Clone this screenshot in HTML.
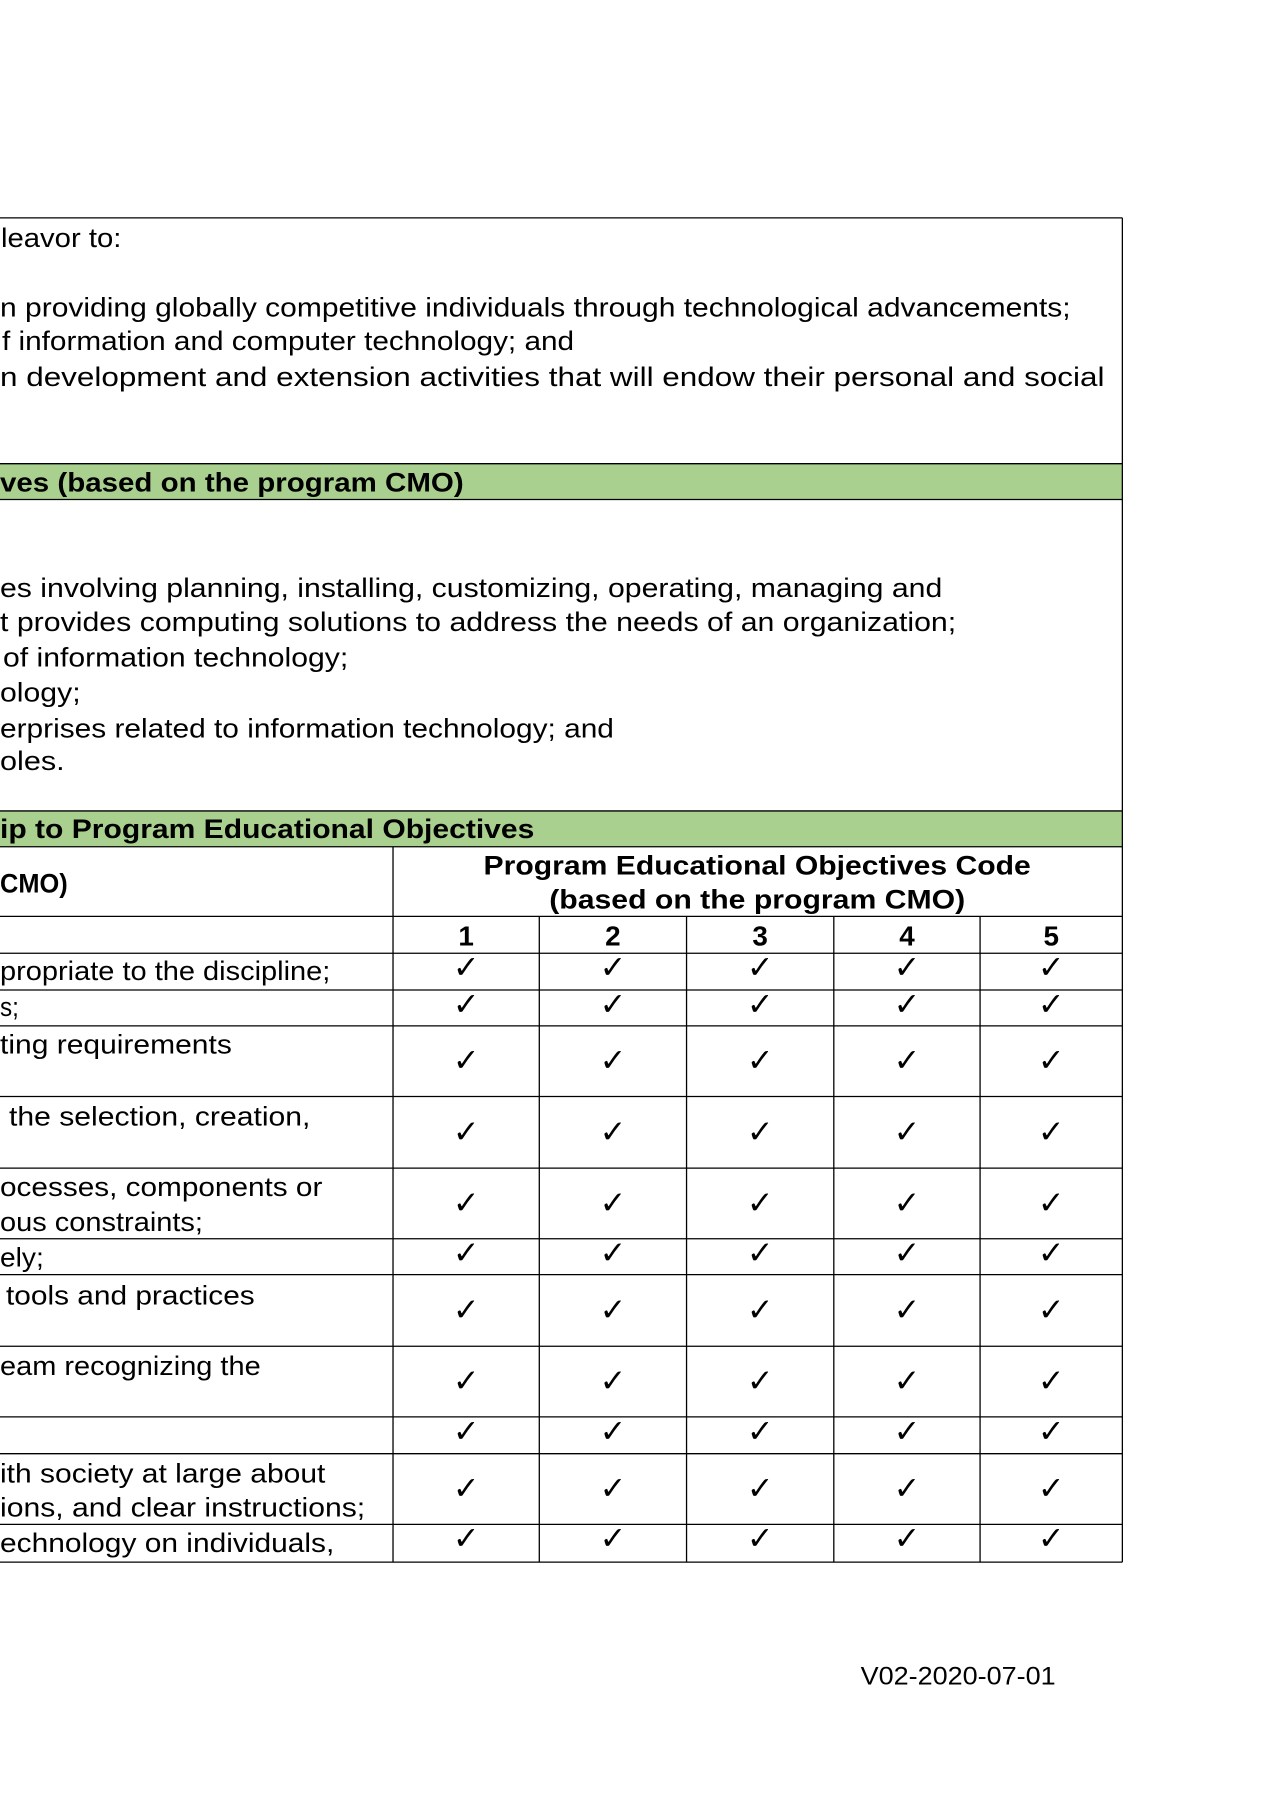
<!DOCTYPE html>
<html><head><meta charset="utf-8"><style>
html,body{margin:0;padding:0;background:#fff;}
svg{display:block;font-family:"Liberation Sans",Arial,sans-serif;}
</style></head><body>
<svg id="s" width="1274" height="1800" viewBox="0 0 1274 1800">
<g transform="scale(0.995)">
<g fill="#a9d08e">
<rect x="0" y="466" width="1128" height="36"/>
<rect x="0" y="815" width="1128" height="36"/>
</g>
<g stroke="#000" stroke-width="1.3" fill="none">
<line x1="0" y1="219" x2="1128" y2="219"/>
<line x1="1128" y1="219" x2="1128" y2="1570"/>
<line x1="0" y1="466" x2="1128" y2="466"/>
<line x1="0" y1="502" x2="1128" y2="502"/>
<line x1="0" y1="815" x2="1128" y2="815"/>
<line x1="0" y1="851" x2="1128" y2="851"/>
<line x1="0" y1="921" x2="1128" y2="921"/>
<line x1="395" y1="851" x2="395" y2="1570"/>
<line x1="542" y1="921" x2="542" y2="1570"/>
<line x1="690" y1="921" x2="690" y2="1570"/>
<line x1="838" y1="921" x2="838" y2="1570"/>
<line x1="985" y1="921" x2="985" y2="1570"/>
</g>
<g id="rowlines" stroke="#000" stroke-width="1.3"></g>
<g font-size="27" fill="#000">
<text x="1" y="248" textLength="121" lengthAdjust="spacingAndGlyphs">leavor to:</text>
<text x="0" y="318" textLength="1076" lengthAdjust="spacingAndGlyphs">n providing globally competitive individuals through technological advancements;</text>
<text x="2" y="352" textLength="575" lengthAdjust="spacingAndGlyphs">f information and computer technology; and</text>
<text x="0" y="388" textLength="1110" lengthAdjust="spacingAndGlyphs">n development and extension activities that will endow their personal and social</text>
</g>
<text x="0" y="494" font-size="27" font-weight="bold" textLength="466" lengthAdjust="spacingAndGlyphs">ves (based on the program CMO)</text>
<g font-size="27" fill="#000">
<text x="0" y="600" textLength="947" lengthAdjust="spacingAndGlyphs">es involving planning, installing, customizing, operating, managing and</text>
<text x="0" y="634" textLength="961" lengthAdjust="spacingAndGlyphs">t provides computing solutions to address the needs of an organization;</text>
<text x="3" y="670" textLength="347" lengthAdjust="spacingAndGlyphs">of information technology;</text>
<text x="0" y="705" textLength="81" lengthAdjust="spacingAndGlyphs">ology;</text>
<text x="0" y="741" textLength="617" lengthAdjust="spacingAndGlyphs">erprises related to information technology; and</text>
<text x="0" y="774" textLength="65" lengthAdjust="spacingAndGlyphs">oles.</text>
</g>
<text x="0" y="842" font-size="27" font-weight="bold" textLength="537" lengthAdjust="spacingAndGlyphs">ip to Program Educational Objectives</text>
<text x="0" y="897" font-size="27" font-weight="bold" textLength="68" lengthAdjust="spacingAndGlyphs">CMO)</text>
<text x="486" y="879" font-size="27" font-weight="bold" textLength="550" lengthAdjust="spacingAndGlyphs">Program Educational Objectives Code</text>
<text x="552" y="913" font-size="27" font-weight="bold" textLength="418" lengthAdjust="spacingAndGlyphs">(based on the program CMO)</text>
<g id="nums" font-size="28" font-weight="bold" text-anchor="middle"></g>
<g font-size="27">
<text x="0" y="985" textLength="332" lengthAdjust="spacingAndGlyphs">propriate to the discipline;</text>
<text x="0" y="1021" textLength="19" lengthAdjust="spacingAndGlyphs">s;</text>
<text x="0" y="1059" textLength="233" lengthAdjust="spacingAndGlyphs">ting requirements</text>
<text x="9" y="1131" textLength="303" lengthAdjust="spacingAndGlyphs">the selection, creation,</text>
<text x="0" y="1202" textLength="324" lengthAdjust="spacingAndGlyphs">ocesses, components or</text>
<text x="0" y="1237" textLength="204" lengthAdjust="spacingAndGlyphs">ous constraints;</text>
<text x="0" y="1273" textLength="44" lengthAdjust="spacingAndGlyphs">ely;</text>
<text x="6" y="1311" textLength="250" lengthAdjust="spacingAndGlyphs">tools and practices</text>
<text x="0" y="1382" textLength="262" lengthAdjust="spacingAndGlyphs">eam recognizing the</text>
<text x="0" y="1490" textLength="327" lengthAdjust="spacingAndGlyphs">ith society at large about</text>
<text x="0" y="1524" textLength="367" lengthAdjust="spacingAndGlyphs">ions, and clear instructions;</text>
<text x="0" y="1560" textLength="336" lengthAdjust="spacingAndGlyphs">echnology on individuals,</text>
</g>
<g id="checks" font-size="32" text-anchor="middle" font-family="DejaVu Sans, sans-serif"></g>
<text x="865" y="1693" font-size="25" textLength="196" lengthAdjust="spacingAndGlyphs">V02-2020-07-01</text>
</g>
</svg>
<script>
const peoCodes = ["1","2","3","4","5"];
const rowBounds = [958,995,1031,1102,1174,1245,1281,1353,1424,1461,1532,1570];
const mapped = [
[1,1,1,1,1],[1,1,1,1,1],[1,1,1,1,1],[1,1,1,1,1],[1,1,1,1,1],[1,1,1,1,1],
[1,1,1,1,1],[1,1,1,1,1],[1,1,1,1,1],[1,1,1,1,1],[1,1,1,1,1]];
const colEdges=[395,542,690,838,985,1128];
const NS="http://www.w3.org/2000/svg";
const colX=i=>(colEdges[i]+colEdges[i+1])/2;
const rl=document.getElementById('rowlines');
rowBounds.forEach(y=>{const l=document.createElementNS(NS,'line');
l.setAttribute('x1',0);l.setAttribute('x2',1128);l.setAttribute('y1',y);l.setAttribute('y2',y);


rl.appendChild(l);});
const nums=document.getElementById('nums');
peoCodes.forEach((c,i)=>{const t=document.createElementNS(NS,'text');
t.setAttribute('x',colX(i));t.setAttribute('y',950);t.textContent=c;


nums.appendChild(t);});
const ch=document.getElementById('checks');
mapped.forEach((row,r)=>{const y0=rowBounds[r],y1=rowBounds[r+1];
const cy=(y1-y0)>45?(y0+y1)/2+10:y0+25;
row.forEach((v,c)=>{if(!v)return;const t=document.createElementNS(NS,'text');
t.setAttribute('x',colX(c));t.setAttribute('y',cy);t.textContent='✓';


ch.appendChild(t);});});
</script>
</body></html>
